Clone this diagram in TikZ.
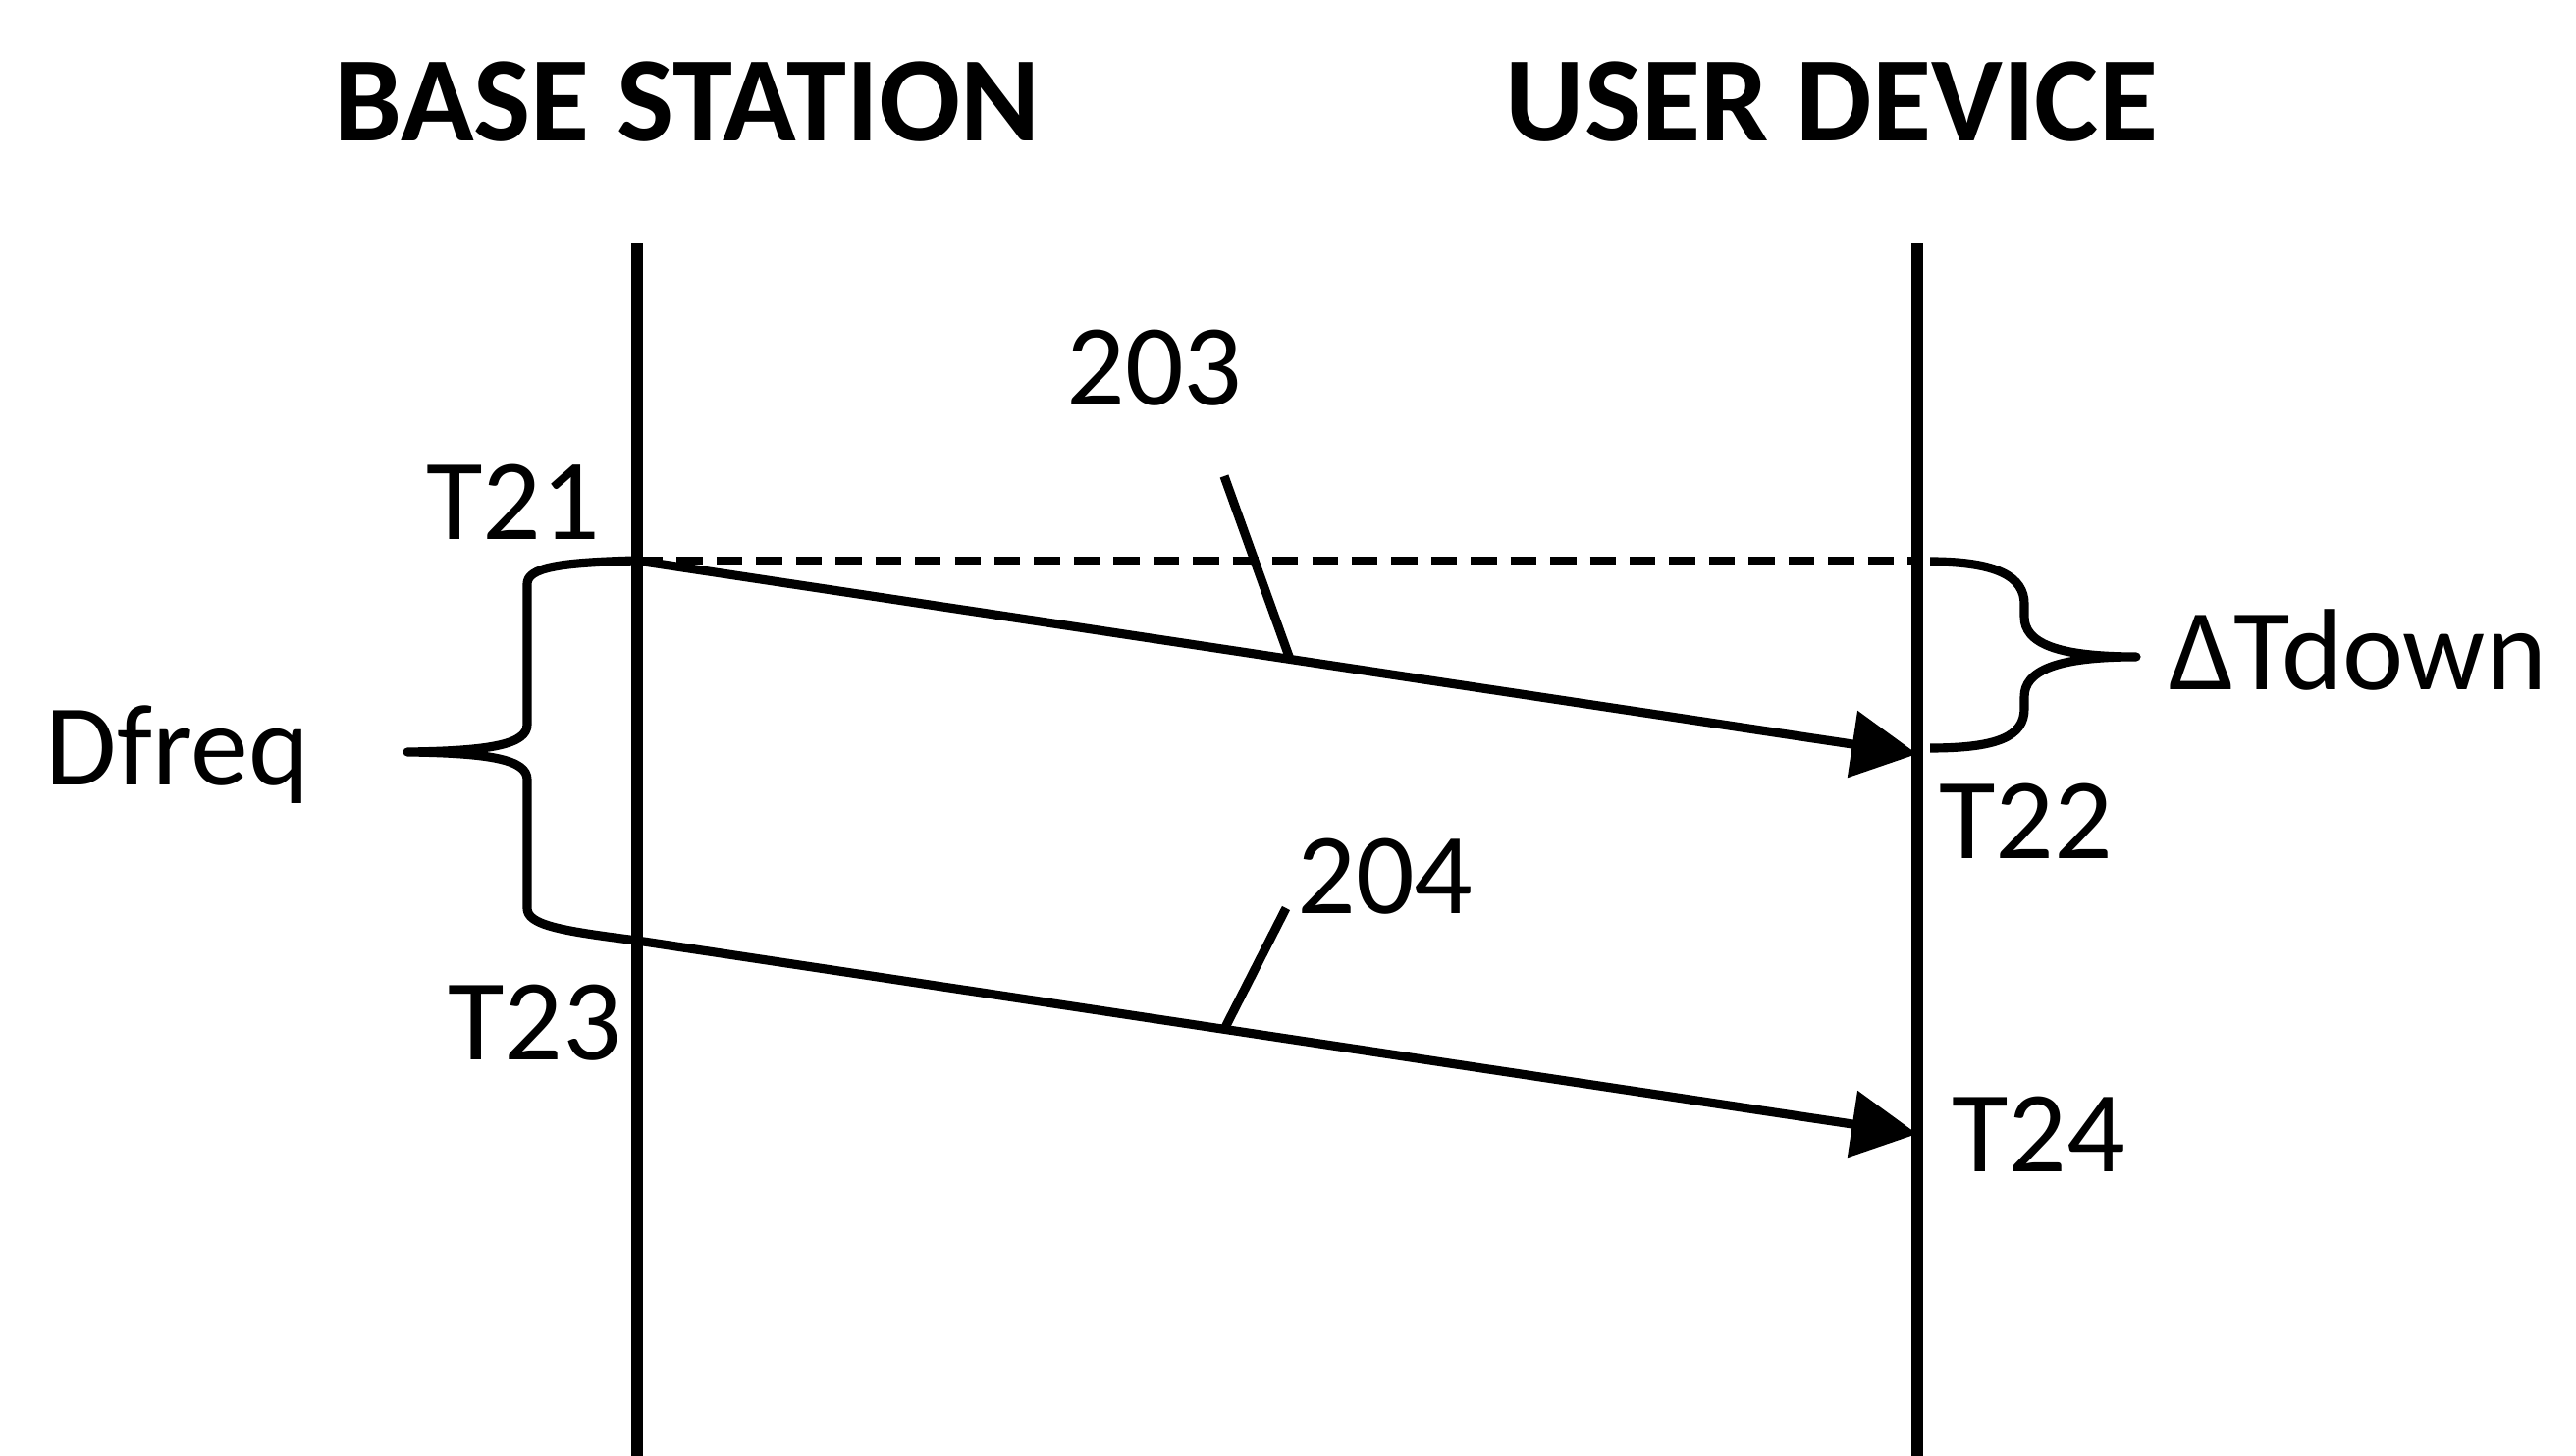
\documentclass[tikz,border=0pt]{standalone}
\usepackage{fontspec}
\setmainfont{Carlito}
\usetikzlibrary{positioning,arrows.meta}

\begin{document}
\begin{tikzpicture}
[x=0.01cm,y=-0.01cm,
 every node/.style={inner sep=0mm,outer sep=0mm,font=\fontsize{33.5}{40}\selectfont},
 head/.style={font=\fontsize{35}{42}\selectfont\bfseries},
 life/.style={line width=3.4pt},
 msg/.style={line width=2.6pt,-{Triangle[length=19pt,width=19pt]}},
 lead/.style={line width=2.6pt},
 brace/.style={line width=2.6pt,line join=round},
 guide/.style={line width=2pt,dash pattern=on 7.5pt off 4pt}]
\useasboundingbox (0,0) rectangle (2624,1483);
% lifelines
\node[head] (bs) at (700,104)  {BASE STATION};
\node[head] (ud) at (1866,104) {USER DEVICE};
\coordinate (bsTop) at (649,248);
\coordinate (bsBot) at (649,1483);
\coordinate (udTop) at (1953,248);
\coordinate (udBot) at (1953,1483);
\draw[life] (bsTop) -- (bsBot);
\draw[life] (udTop) -- (udBot);
% time points
\coordinate (t21)  at (649,571);
\coordinate (t21u) at (1953,571);
\coordinate (t22)  at (1953,768);
\coordinate (t23)  at (649,958);
\coordinate (t24)  at (1953,1155);
\node (lT21) [anchor=south east,above left=2.1mm and 3.8mm of t21] {T21};
\node (lT22) [anchor=north west,below right=3mm and 2.2mm of t22] {T22};
\node (lT23) [anchor=north east,below left=4.5mm and 1.6mm of t23] {T23};
\node (lT24) [anchor=west,right=3.5mm of t24] {T24};
% messages
\draw[guide] (t21) -- (t21u);
\draw[msg] (t21) -- coordinate[pos=0.51] (m203) (t22);
\draw[msg] (t23) -- coordinate[pos=0.4586] (m204) (t24);
\node (n203) at (1176,375) {203};
\node (n204) at (1411,893) {204};
\coordinate (c203) at (1247,485);
\coordinate (c204) at (1310,925);
\draw[lead] (c203) -- (m203);
\draw[lead] (c204) -- (m204);
% braces
\coordinate (dTip) at (415,766);
\coordinate (uTip) at (2176,669);
\draw[brace] (t21) .. controls (570,573) and (537,578) .. (537,595) -- (537,738)
  .. controls (537,758) and (500,765) .. (dTip)
  .. controls (500,767) and (537,774) .. (537,794) -- (537,925)
  .. controls (537,942) and (570,948) .. (t23);
\draw[brace] (1966,572) .. controls (2035,572) and (2062,588) .. (2062,615) -- (2062,628)
  .. controls (2062,655) and (2095,669) .. (uTip)
  .. controls (2095,669) and (2062,683) .. (2062,710) -- (2062,722)
  .. controls (2062,750) and (2035,762) .. (1966,762);
\node (dfreq) [anchor=base west] at (47,800)  {Dfreq};
\node (tdown) [anchor=base west] at (2209,703) {ΔTdown};
\end{tikzpicture}
\end{document}
